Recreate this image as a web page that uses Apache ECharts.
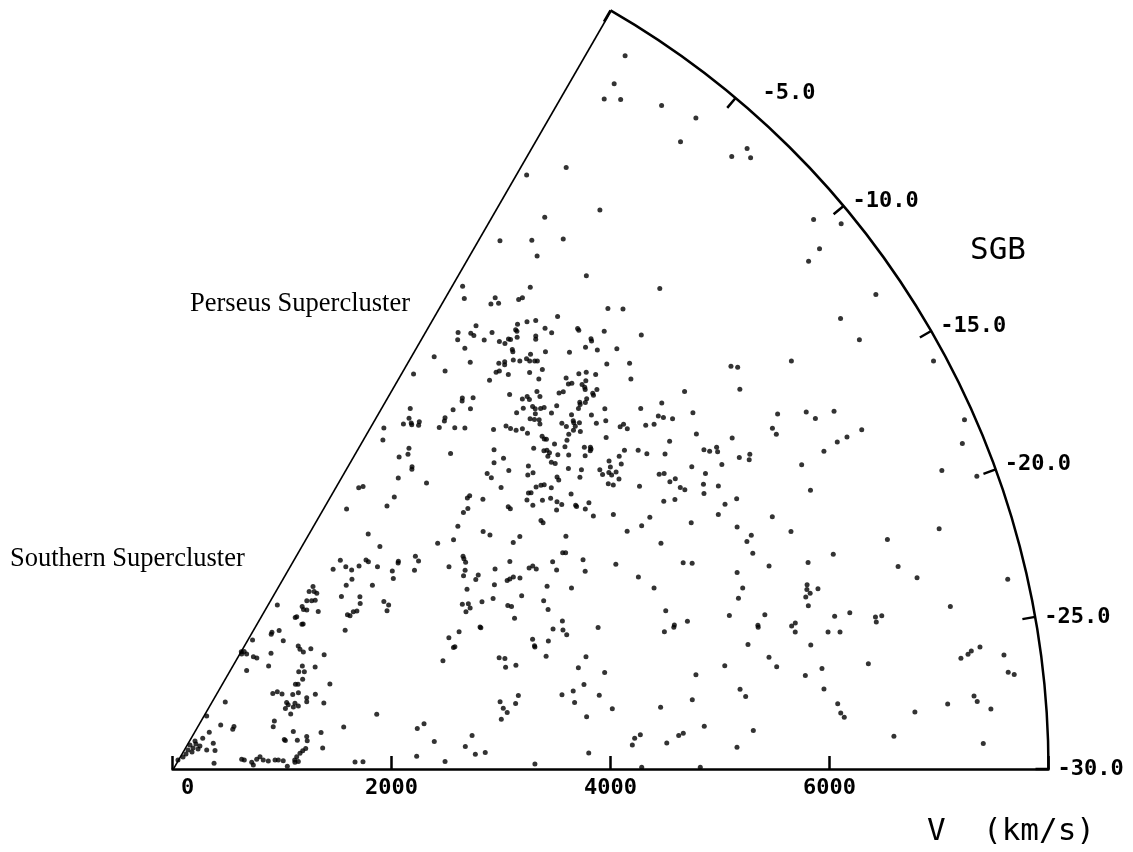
<!DOCTYPE html>
<html>
<head>
<meta charset="utf-8">
<script src="https://cdn.jsdelivr.net/npm/echarts@6/dist/echarts.min.js"></script>
<style>html,body{margin:0;padding:0;background:#fff}#c{width:1133px;height:852px}</style>
</head>
<body>
<div id="c"></div>
<script>
// Axis definitions
const sgbRange = [-30, 0];          // supergalactic latitude (deg)
const sgbStep = 5;
const velocityRange = [0, 8000];    // km/s
const velocityStep = 2000;

// Galaxies: [V (km/s), SGB (deg)], grouped by region of the wedge
const outerRim = [
[7714,-1.2],[7446,-1.4],[7278,-1.4],[7357,-1.9],[7527,-3.2],[7628,-4.4],[7372,-4.5],[7574,-6.2],[7723,-6.4],[7684,-6.7],
[6566,-1.6],[6316,-0.4],[6426,-3.7],[6079,-2.0],[5675,-0.9],[5838,-2.1],[6013,-3.2],[5748,-2.7],[5880,-5.0],
[7711,-9.7],[7880,-10.4],[7582,-10.6],[7433,-10.7],
[7748,-13.0],[7359,-13.0],[7397,-14.0],[7886,-15.9],[6868,-15.8],[7015,-16.9],[6865,-16.9],[6766,-16.9],[6619,-17.0],[7905,-18.1],
[7802,-18.8],[7536,-19.4],[7817,-20.0],[7337,-21.3],
[7822,-23.6],[7257,-24.1],[7458,-25.7],[7374,-25.8],[7340,-25.9],[7271,-26.0],[7664,-26.1],[7683,-26.7],[7735,-26.8],[7104,-27.6],
[7350,-27.4],[7375,-27.6],[7494,-27.9],[7408,-29.1]
];
const perseusRegion = [
[5144,-0.5],[5057,-0.9],[5480,-3.3],[5216,-2.2],[5147,-2.2],[5192,-2.5],[5327,-3.2],[5360,-3.3],[5426,-5.2],[4906,-2.2],
[4763,-1.6],[4706,-1.8],[4822,-2.2],[4822,-2.4],[4843,-3.0],[4941,-3.1],[4915,-3.7],[4931,-4.0],[4984,-4.0],[4992,-4.1],
[5141,-3.9],[5090,-4.0],[5086,-4.1],[5045,-4.3],[5212,-4.2],[5271,-4.5],[5271,-5.1],[5278,-5.5],[5161,-5.0],[5139,-5.1],
[4678,-2.4],[4931,-4.5],[4918,-4.6],[5004,-5.4],[5110,-5.9],[4460,-1.2],[4604,-3.1],[4756,-4.4],[4800,-4.6],[4779,-4.7],
[4862,-4.9],[4894,-5.2],[4948,-5.4],[4952,-5.6],[4982,-5.8],[4999,-5.9],[4971,-6.4],[4406,-2.2],[4225,-0.7],[4676,-4.6],
[4703,-4.7],[4732,-5.2],[4874,-6.0],[4581,-4.6],[4887,-6.6],[4601,-6.0],[4650,-6.7],[4697,-6.8],[4692,-7.0],[4791,-7.0],
[4779,-7.3],[4924,-7.9],[4299,-4.0],[4277,-4.1],[4362,-4.5],[4595,-7.1],[4667,-7.4],[4668,-7.6],[4705,-7.8],[4734,-7.9],
[4829,-8.3],[4162,-4.0],[4269,-4.8],[3944,-1.7],[4524,-7.0],[4638,-7.8],[4748,-8.4],[4061,-3.9],[4033,-4.0],[3863,-2.0],
[3839,-2.3],[3891,-2.7],[3828,-2.4],[3861,-2.8],[3791,-1.9],[4571,-7.8],[4595,-8.0],[4624,-8.2],[4603,-8.4],[3663,-0.9],
[3957,-4.0],[4044,-4.8],[4103,-5.3],[4267,-6.7],[4369,-7.1],[4381,-7.4],[4407,-7.7],[4457,-7.9],[4462,-8.3],[4542,-9.0],
[4540,-9.2],[4552,-9.3],[4581,-9.8],[3566,-1.3],[4411,-9.2],[4467,-9.7],[4490,-9.8],[4494,-10.0],[4462,-10.1],[4452,-10.5],
[4472,-10.7],[4541,-10.4],[3639,-3.2],[3590,-3.4],[3840,-5.7],[3521,-3.0],[4138,-7.6],[4055,-8.2],[4147,-8.4],[3522,-4.2],
[3504,-4.3],[4268,-9.8],[3942,-8.4],[3943,-8.8],[4107,-9.2],[4211,-10.2],[4261,-10.3],[4409,-11.4],[4405,-11.6],[3364,-3.9],
[3494,-5.8],[3952,-9.7],[4202,-11.1],[4247,-11.2],[4273,-11.3],[4309,-11.7],[3081,-1.75],[3112,-2.0],[4114,-11.1],[4133,-11.2],
[3687,-8.7],[3658,-8.7],[3205,-4.6],[3756,-9.5],[3891,-11.0],[3894,-11.2],[4064,-11.4],[4078,-11.9],[4176,-12.0],[4247,-12.2],
[4276,-12.6],[4231,-13.0],[3596,-9.3],[3542,-9.3],[3099,-4.6],[2858,-1.9],[4059,-13.0],[4063,-13.2],[3422,-9.8]
];
const centralRidge = [
[6250,-7.7],[5787,-6.7],[5880,-7.2],[5466,-6.3],[5461,-6.4],[5615,-7.3],[5482,-7.1],[5470,-7.2],[5835,-8.6],[5391,-7.2],
[5449,-7.7],[5585,-8.3],[5257,-6.8],[5423,-8.5],[5582,-9.2],[5176,-7.9],[5235,-8.1],[5284,-8.5],[5066,-7.6],[5043,-7.9],
[5070,-8.0],[5131,-8.4],[5178,-8.4],[5131,-8.6],[5120,-8.7],[5497,-9.8],[4961,-8.0],[5199,-9.1],[5141,-9.2],[5148,-9.1],
[5074,-9.1],[5042,-9.2],[5005,-9.0],[4958,-9.2],[4994,-9.1],[5139,-10.1],[5397,-11.2],[5810,-11.8],[5580,-11.6],[5760,-12.8],
[4873,-9.2],[5009,-9.9],[4755,-9.2],[4766,-9.5],[4738,-9.9],[4849,-9.5],[4841,-9.6],[4794,-9.9],[4830,-9.8],[4880,-9.8],
[4834,-10.2],[4995,-10.4],[5077,-10.6],[5146,-11.3],[5185,-11.3],[5187,-11.6],[5342,-12.0],[5409,-12.2],[5484,-12.0],[5514,-12.2],
[5575,-12.5],[4985,-11.3],[4689,-10.1],[4638,-10.3],[4773,-11.0],[4817,-11.2],[4811,-11.3],[4796,-11.35],[4731,-11.4],[4617,-10.8],
[5051,-12.4],[4980,-12.5],[5154,-12.8],[5201,-13.2],[5339,-13.7],[5438,-13.3],[5679,-13.7],[5938,-14.7],[5662,-14.5],[5699,-14.7],
[5773,-14.7],[5760,-14.9],[5907,-15.6],[6005,-15.7],[5976,-15.9],[5736,-15.5],[5487,-14.9],[5565,-15.5],[4539,-11.4],[4628,-11.9],
[4576,-12.2],[4879,-12.4],[4955,-12.9],[4764,-12.5],[4760,-12.8],[4818,-12.9],[4858,-12.7],[4826,-13.1],[4875,-13.1],[4862,-13.5],
[4756,-13.4],[4789,-13.6],[4986,-14.4],[5196,-14.4],[5238,-14.5],[5245,-15.0],[5302,-15.0],[5302,-15.5],[5329,-15.7],[5502,-15.9],
[5615,-16.3],[5467,-16.3],[4422,-12.7],[4298,-12.9],[4400,-13.4],[4400,-13.5],[4514,-13.7],[4455,-13.9],[4484,-14.5],[4649,-15.0],
[4928,-16.1],[4826,-16.3],[5110,-15.7],[5206,-15.9],[5595,-17.2],[5713,-17.2],[5500,-17.5],[5244,-17.3],[5610,-18.4],[5942,-18.6],
[6288,-12.1],[6332,-12.3],[6235,-13.1],[6770,-13.3],[6407,-14.8],[6301,-15.2],[6305,-15.5],[6643,-15.3],[6687,-15.7],[6382,-17.1],
[6358,-18.2]
];
const southernRegion = [
[2792,-4.9],[2777,-6.5],[2446,-4.4],[2341,-4.4],[2432,-5.3],[2445,-6.0],[2517,-6.3],[2601,-6.4],[2604,-6.7],[2629,-7.7],
[2802,-8.7],[2790,-8.8],[2948,-9.4],[2942,-9.9],[2860,-10.3],[2701,-9.0],[2664,-9.6],[2385,-6.7],[2309,-6.7],[2480,-8.7],
[2205,-7.2],[2325,-8.7],[2285,-9.3],[2463,-10.8],[2478,-11.4],[2434,-11.8],[2130,-9.3],[2142,-9.6],[2188,-9.5],[2218,-9.7],
[2023,-10.6],[2103,-3.8],[2076,-4.7],[2045,-3.8],[2073,-4.3],[1994,-4.8],[2019,-5.1],[1966,-4.3],[1898,-4.3],[1885,-4.7],
[1900,-5.1],[1959,-6.4],[1795,-4.6],[1781,-4.5],[1783,-6.0],[1773,-5.9],[1777,-1.3],[1545,-3.0],[1526,-3.1],[1596,-3.8],
[1548,-5.4],[1387,-0.9],[1607,-7.8],[1597,-8.4],[1603,-9.1],[1674,-9.5],[1734,-11.5],[1388,-5.2],[1256,-0.7],[1250,-1.4],
[1263,-2.9],[1274,-3.6],[1125,-3.5],[1287,-6.5],[1513,-10.8],[1455,-11.2],[1496,-11.8],[1602,-12.2],[1444,-12.7],[1364,-12.7],
[1383,-13.0],[1634,-15.8],[1147,-11.5],[1189,-11.8],[1212,-12.8],[1292,-14.1],[1344,-14.4],[1388,-16.0],[1371,-16.7],[1472,-16.2],
[1508,-18.2],[1206,-14.9],[1208,-15.5],[1170,-15.9],[1241,-16.4],[1269,-15.9],[1285,-16.7],[1191,-17.5],[779,-4.1],[576,-1.4],
[596,-8.8],[682,-12.7],[659,-13.3],[475,-7.5],[393,-7.3],[1028,-17.4],[998,-18.6],[1155,-21.4],[1056,-22.6],[1063,-22.9],
[1170,-23.5],[1261,-23.2],[1257,-24.1],[1397,-23.1],[1385,-26.0],[1610,-23.1],[1931,-22.5],[2266,-25.3],[2233,-28.5],[1668,-28.9],
[1741,-28.9],[271,-3.0],[268,-7.2],[313,-6.6],[296,-11.0],[236,-9.5],[327,-10.0],[224,-4.6],[328,-4.4],[184,-6.0],
[146,-5.6],[96,-0.7],[357,-15.5],[423,-18.3],[383,-26.1],[638,-26.0],[661,-26.4],[726,-27.6],[739,-28.6],[774,-26.7],
[807,-26.0],[833,-27.2],[878,-27.6],[940,-27.5],[970,-27.6],[1014,-27.9],[1049,-29.3],[1119,-27.9],[1140,-27.2],[1173,-26.5],
[1201,-26.0],[1231,-25.6],[1151,-28.3],[1120,-28.4],[440,-13.9],[1242,-0.2],[1226,-0.5]
];
const middleBand = [
[3180,-9.8],[3312,-10.4],[3571,-11.3],[3602,-11.8],[3817,-13.1],[3736,-13.2],[4174,-14.7],[4685,-16.2],[4914,-17.6],[3288,-11.9],
[3281,-12.1],[3276,-12.4],[3129,-11.9],[3231,-12.9],[3191,-13.2],[3266,-14.0],[3307,-13.8],[3466,-14.1],[3617,-14.2],[3508,-15.3],
[3536,-15.3],[3573,-15.3],[3621,-15.6],[3738,-15.3],[3776,-15.3],[3791,-15.6],[3954,-15.7],[3951,-16.3],[4074,-15.5],[4097,-15.6],
[4208,-16.5],[4179,-17.2],[4460,-17.6],[4602,-18.8],[4698,-19.7],[3151,-14.3],[3388,-15.1],[3213,-15.8],[3316,-16.0],[3044,-15.2],
[3095,-15.4],[3090,-15.8],[3041,-15.9],[3407,-17.0],[3433,-17.2],[3560,-16.8],[3806,-17.0],[4001,-17.8],[3722,-17.8],[3726,-18.5],
[3414,-18.1],[3094,-17.6],[3097,-17.7],[2902,-17.2],[2794,-17.3],[2796,-18.3],[2810,-18.3],[3809,-19.6],[3703,-19.9],[3785,-20.2],
[3803,-20.6],[3495,-20.1],[3492,-20.6],[3492,-20.7],[3626,-20.6],[4096,-20.8],[4731,-21.1],[4768,-22.0],[4758,-22.1],[4664,-22.2],
[2660,-19.1],[3151,-20.6],[3199,-20.8],[3181,-21.5],[3276,-21.6],[3564,-21.6],[3913,-22.4],[3820,-23.0],[4044,-23.7],[3054,-24.2],
[3071,-24.8],[3100,-25.2],[3037,-25.7],[3229,-24.0],[3190,-24.6],[3621,-24.6],[3728,-24.5],[3722,-25.3],[3836,-24.2],[3955,-25.1],
[3812,-26.4],[4054,-26.1],[4493,-26.4],[2334,-24.9],[2404,-27.0],[2753,-26.8],[2682,-27.8],[2769,-28.6],[2860,-28.5],[2490,-29.2],
[3310,-29.6],[3804,-28.9],[4205,-28.5],[4230,-28.1],[4284,-27.9],[4520,-28.5],[4633,-28.1],[4285,-29.9]
];
const lowerField = [
[6050,-19.5],[5701,-19.0],[5642,-19.2],[5654,-19.8],[5030,-19.0],[5104,-19.2],[5755,-20.6],[5460,-20.4],[5463,-21.2],[5399,-21.6],
[6103,-21.0],[6345,-21.0],[6857,-21.1],[6880,-22.2],[7020,-22.8],[6035,-21.9],[6021,-22.1],[6040,-22.3],[5993,-22.4],[6120,-22.2],
[5995,-22.8],[4892,-22.0],[5275,-22.3],[5590,-22.7],[5505,-23.1],[5503,-23.2],[5803,-23.5],[5842,-23.4],[5823,-23.8],[5938,-24.5],
[6116,-24.1],[6206,-23.5],[6223,-24.2],[6348,-23.5],[6568,-23.9],[6566,-24.1],[6627,-23.9],[5377,-23.9],[5542,-24.7],[5596,-25.2],
[5131,-24.7],[4857,-24.9],[5842,-25.8],[6002,-25.6],[5994,-26.5],[6427,-25.7],[5234,-26.0],[5276,-26.4],[4789,-26.2],[6104,-27.2],
[6124,-27.6],[6153,-27.8],[6800,-27.8],[4676,-28.0],[4872,-27.7],[5316,-28.1],[5159,-28.9],[6595,-28.7],[4820,-29.9]
];

const galaxies = [].concat(outerRim, perseusRegion, centralRidge, southernRegion, middleBand, lowerField);

const MONO = '"DejaVu Sans Mono", "Liberation Mono", monospace';
const SERIF = '"Liberation Serif", "Times New Roman", serif';
const labelFont = { fontFamily: MONO, fontWeight: 'bold', fontSize: 22, color: '#000' };

const chart = echarts.init(document.getElementById('c'), null, {renderer: 'canvas'});
chart.setOption({
  animation: false,
  backgroundColor: '#ffffff',
  polar: { center: [172.5, 769], radius: 876 },
  angleAxis: {
    type: 'value', min: sgbRange[0], max: sgbRange[1], interval: sgbStep,
    startAngle: 0, endAngle: 60, clockwise: false,
    axisLine: { show: true, lineStyle: { color: '#000', width: 2.5 } },
    axisTick: { show: true, inside: true, length: 13, lineStyle: { color: '#000', width: 2.5 } },
    axisLabel: {
      show: true, margin: 0, padding: [0, 0, 0, 9], lineHeight: 10,
      color: '#000', fontFamily: MONO, fontWeight: 'bold', fontSize: 22,
      formatter: v => (v === sgbRange[1] ? '' : (v === -5 ? '{w|' + v.toFixed(1) + '}' : v.toFixed(1))),
      rich: { w: Object.assign({ padding: [0, 0, 0, 18], lineHeight: 10 }, labelFont) }
    },
    splitLine: { show: false }, splitArea: { show: false }
  },
  radiusAxis: {
    type: 'value', min: velocityRange[0], max: velocityRange[1], interval: velocityStep,
    axisLine: { show: true, lineStyle: { color: '#000', width: 2.5 } },
    axisTick: { show: true, inside: true, length: 13, lineStyle: { color: '#000', width: 2.5 } },
    axisLabel: {
      show: true, margin: -30, color: '#000', fontFamily: MONO, fontWeight: 'bold', fontSize: 22,
      formatter: v => (v === velocityRange[1] ? '' : (v === 0 ? '{z|0}' : String(v))),
      rich: { z: Object.assign({ padding: [0, 0, 0, 30] }, labelFont) }
    },
    splitLine: { show: false }, splitArea: { show: false }
  },
  series: [
    {
      type: 'line', coordinateSystem: 'polar', silent: true, showSymbol: false, symbol: 'none', clip: false,
      data: [[velocityRange[0], sgbRange[1]], [velocityRange[1], sgbRange[1]]],
      lineStyle: { color: '#000', width: 3.2 }
    },
    {
      type: 'scatter', coordinateSystem: 'polar', data: galaxies, clip: false,
      symbol: 'circle', symbolSize: 5, itemStyle: { color: '#000' }
    }
  ],
  graphic: [
    { type: 'text', x: 190, y: 304, style: { text: 'Perseus Supercluster', fontFamily: SERIF, fontSize: 26.5, fill: '#000', align: 'left', verticalAlign: 'middle' } },
    { type: 'text', x: 10, y: 559, style: { text: 'Southern Supercluster', fontFamily: SERIF, fontSize: 26.5, fill: '#000', align: 'left', verticalAlign: 'middle' } },
    { type: 'text', x: 970, y: 251, style: { text: 'SGB', fontFamily: MONO, fontSize: 31, fill: '#000', align: 'left', verticalAlign: 'middle' } },
    { type: 'text', x: 927, y: 832, style: { text: 'V  (km/s)', fontFamily: MONO, fontSize: 31, fill: '#000', align: 'left', verticalAlign: 'middle' } }
  ]
});
</script>
</body>
</html>
